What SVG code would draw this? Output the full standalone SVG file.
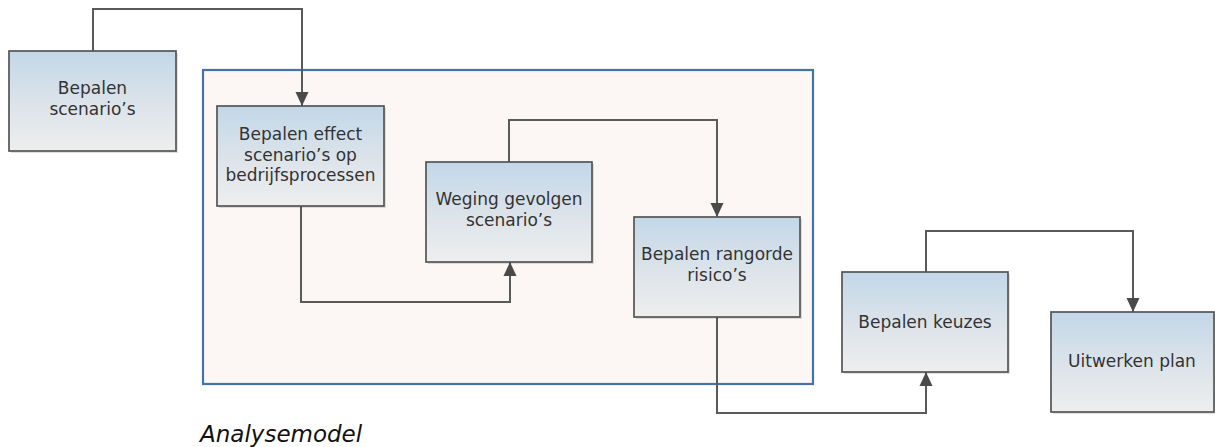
<svg xmlns="http://www.w3.org/2000/svg" width="1215" height="447" viewBox="0 0 1215 447">
<defs>
<linearGradient id="boxfill" x1="0" y1="0" x2="0" y2="1">
<stop offset="0" stop-color="#c3d7e8"/>
<stop offset="0.55" stop-color="#dde4ea"/>
<stop offset="1" stop-color="#eeeeee"/>
</linearGradient>
<marker id="arrow" viewBox="0 0 14 14" refX="14" refY="7" markerWidth="14" markerHeight="14" markerUnits="userSpaceOnUse" orient="auto">
<path d="M0,0.5 L14,7 L0,13.5 Z" fill="#4a4a4a"/>
</marker>
<style>
.box{fill:url(#boxfill);stroke:#555555;stroke-width:1.7;}
.shadow{fill:#000;opacity:0.12;}
.lbl{font-family:"DejaVu Sans",Verdana,sans-serif;font-size:17px;fill:#333333;text-anchor:middle;}
.conn{fill:none;stroke:#5a5a5a;stroke-width:2;marker-end:url(#arrow);}
</style>
</defs>
<rect width="1215" height="447" fill="#ffffff"/>
<g id="container">
<rect x="203" y="70" width="610" height="314" fill="#fcf7f4" stroke="#4673a5" stroke-width="2.2"/>
</g>
<g id="connectors">
<path class="conn" d="M93 51 V9 H302 V106"/>
<path class="conn" d="M301 206 V302 H510 V262"/>
<path class="conn" d="M509 162 V120 H717 V217"/>
<path class="conn" d="M717 317 V413 H926 V372"/>
<path class="conn" d="M926 272 V231 H1133 V312"/>
</g>
<g id="n1">
<rect class="shadow" x="11" y="53" width="167" height="100"/>
<rect class="box" x="9" y="51" width="167" height="100"/>
<text class="lbl" x="92.5" y="94">Bepalen</text>
<text class="lbl" x="92.5" y="115">scenario’s</text>
</g>
<g id="n2">
<rect class="shadow" x="219" y="108" width="167" height="100"/>
<rect class="box" x="217" y="106" width="167" height="100"/>
<text class="lbl" x="300.5" y="140">Bepalen effect</text>
<text class="lbl" x="300.5" y="161">scenario’s op</text>
<text class="lbl" x="300.5" y="181">bedrijfsprocessen</text>
</g>
<g id="n3">
<rect class="shadow" x="428" y="164" width="166" height="100"/>
<rect class="box" x="426" y="162" width="166" height="100"/>
<text class="lbl" x="509" y="205">Weging gevolgen</text>
<text class="lbl" x="509" y="226">scenario’s</text>
</g>
<g id="n4">
<rect class="shadow" x="636" y="219" width="166" height="100"/>
<rect class="box" x="634" y="217" width="166" height="100"/>
<text class="lbl" x="717" y="260">Bepalen rangorde</text>
<text class="lbl" x="717" y="281">risico’s</text>
</g>
<g id="n5">
<rect class="shadow" x="844" y="274" width="166" height="100"/>
<rect class="box" x="842" y="272" width="166" height="100"/>
<text class="lbl" x="925" y="328">Bepalen keuzes</text>
</g>
<g id="n6">
<rect class="shadow" x="1053" y="314" width="164" height="100"/>
<rect class="box" x="1051" y="312" width="163" height="100"/>
<text class="lbl" x="1132" y="367">Uitwerken plan</text>
</g>
<g id="caption">
<text x="200" y="442" font-family="DejaVu Sans,Verdana,sans-serif" font-style="italic" font-size="23" fill="#111111">Analysemodel</text>
</g>
</svg>
